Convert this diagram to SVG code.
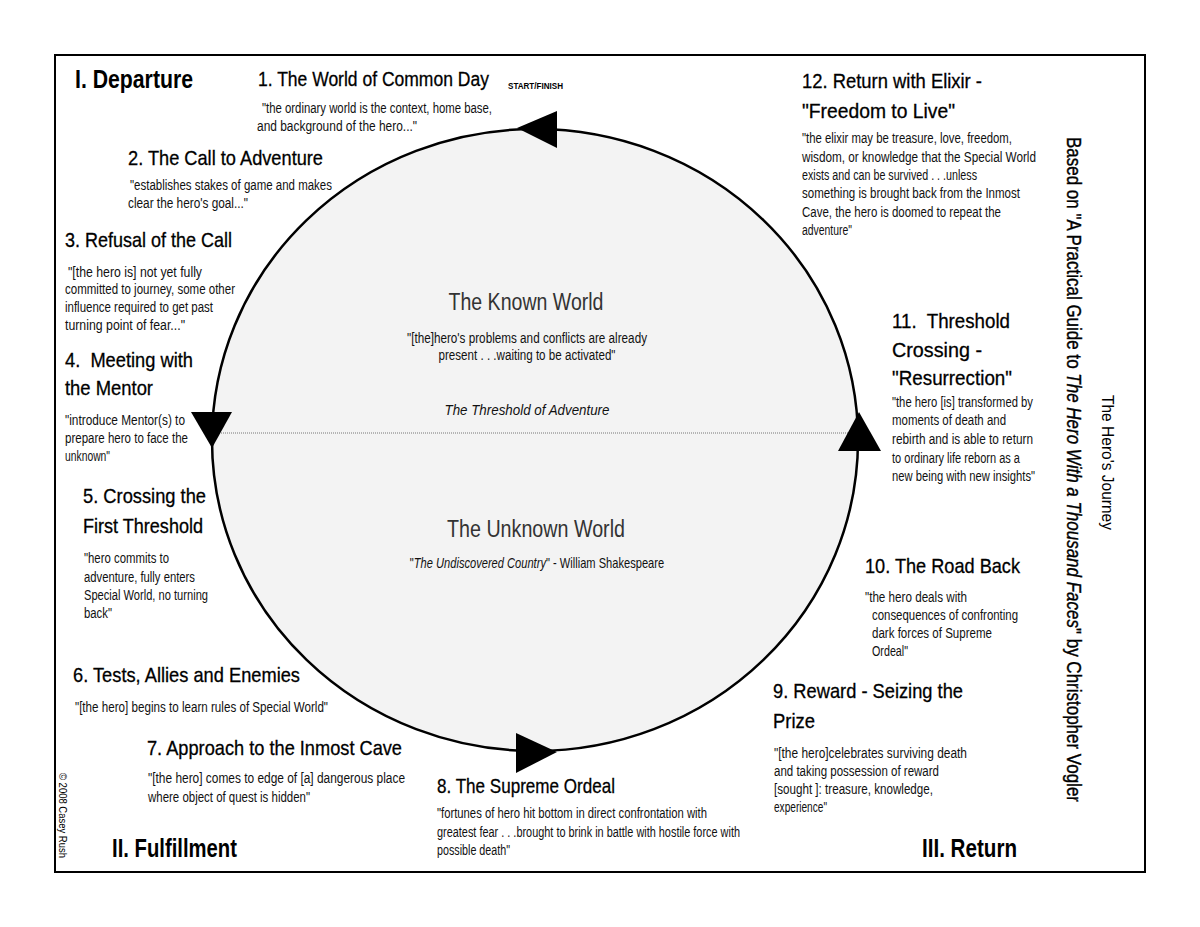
<svg xmlns="http://www.w3.org/2000/svg" width="1200" height="927" viewBox="0 0 1200 927">
<style>
text{font-family:"Liberation Sans",Arial,sans-serif;fill:#000}
.h{font-size:21px;stroke:#000;stroke-width:0.3}
.q{font-size:14px;fill:#111}
.sec{font-size:25px;font-weight:bold}
.w{font-size:23px;fill:#333}
.c{text-anchor:middle}
.it{font-style:italic}
.tiny{font-size:9px;font-weight:bold}
.pre{white-space:pre}
.arrow{fill:#000;stroke:none}
</style>
<rect x="0" y="0" width="1200" height="927" fill="#fff"/>
<rect x="55" y="55" width="1090" height="817" fill="none" stroke="#000" stroke-width="2"/>

<g id="cycle">
<ellipse cx="535" cy="440" rx="323" ry="311" fill="#f3f3f3" stroke="#000" stroke-width="2.5"/>
<line x1="213" y1="433" x2="857" y2="433" stroke="#777" stroke-width="1" stroke-dasharray="1,1"/>
</g>

<g id="connectors">
<polygon class="arrow" points="517,128 557,111 557,148"/>
<polygon class="arrow" points="191,412 232,412 212,448"/>
<polygon class="arrow" points="516,733 516,773 557,752"/>
<polygon class="arrow" points="838,451 881,451 859,412"/>
</g>

<g id="sections">
<text class="sec" x="75" y="88" textLength="118" lengthAdjust="spacingAndGlyphs">I. Departure</text>
<text class="sec" x="112" y="857" textLength="125" lengthAdjust="spacingAndGlyphs">II. Fulfillment</text>
<text class="sec" x="922" y="857" textLength="95" lengthAdjust="spacingAndGlyphs">III. Return</text>
</g>

<g id="step1">
<text class="h" transform="translate(258,86) scale(0.834,1)" x="0" y="0">1. The World of Common Day</text>
<text class="tiny" x="508" y="89" textLength="55" lengthAdjust="spacingAndGlyphs">START/FINISH</text>
<text class="q" x="262" y="113" textLength="230" lengthAdjust="spacingAndGlyphs">"the ordinary world is the context, home base,</text>
<text class="q" x="257" y="131" textLength="160" lengthAdjust="spacingAndGlyphs">and background of the hero..."</text>
</g>

<g id="step2">
<text class="h" x="128" y="165" textLength="195" lengthAdjust="spacingAndGlyphs">2. The Call to Adventure</text>
<text class="q" x="130" y="190" textLength="202" lengthAdjust="spacingAndGlyphs">"establishes stakes of game and makes</text>
<text class="q" x="128" y="208" textLength="120" lengthAdjust="spacingAndGlyphs">clear the hero's goal..."</text>
</g>

<g id="step3">
<text class="h" x="65" y="247" textLength="167" lengthAdjust="spacingAndGlyphs">3. Refusal of the Call</text>
<text class="q" x="68" y="277" textLength="134" lengthAdjust="spacingAndGlyphs">"[the hero is] not yet fully</text>
<text class="q" x="65" y="294" textLength="170" lengthAdjust="spacingAndGlyphs">committed to journey, some other</text>
<text class="q" x="65" y="312" textLength="148" lengthAdjust="spacingAndGlyphs">influence required to get past</text>
<text class="q" x="65" y="330" textLength="120" lengthAdjust="spacingAndGlyphs">turning point of fear..."</text>
</g>

<g id="step4">
<text class="h pre" x="65" y="367" textLength="128" lengthAdjust="spacingAndGlyphs">4.  Meeting with</text>
<text class="h" x="65" y="395" textLength="88" lengthAdjust="spacingAndGlyphs">the Mentor</text>
<text class="q" x="65" y="425" textLength="120" lengthAdjust="spacingAndGlyphs">"introduce Mentor(s) to</text>
<text class="q" x="65" y="443" textLength="123" lengthAdjust="spacingAndGlyphs">prepare hero to face the</text>
<text class="q" x="65" y="461" textLength="45" lengthAdjust="spacingAndGlyphs">unknown"</text>
</g>

<g id="step5">
<text class="h" x="83" y="503" textLength="123" lengthAdjust="spacingAndGlyphs">5. Crossing the</text>
<text class="h" x="83" y="533" textLength="120" lengthAdjust="spacingAndGlyphs">First Threshold</text>
<text class="q" x="84" y="563" textLength="85" lengthAdjust="spacingAndGlyphs">"hero commits to</text>
<text class="q" x="84" y="582" textLength="111" lengthAdjust="spacingAndGlyphs">adventure, fully enters</text>
<text class="q" x="84" y="600" textLength="124" lengthAdjust="spacingAndGlyphs">Special World, no turning</text>
<text class="q" x="84" y="618" textLength="28" lengthAdjust="spacingAndGlyphs">back"</text>
</g>

<g id="step6">
<text class="h" x="73" y="682" textLength="227" lengthAdjust="spacingAndGlyphs">6. Tests, Allies and Enemies</text>
<text class="q" x="75" y="712" textLength="253" lengthAdjust="spacingAndGlyphs">"[the hero] begins to learn rules of Special World"</text>
</g>

<g id="step7">
<text class="h" x="147" y="755" textLength="255" lengthAdjust="spacingAndGlyphs">7. Approach to the Inmost Cave</text>
<text class="q" x="148" y="783" textLength="257" lengthAdjust="spacingAndGlyphs">"[the hero] comes to edge of [a] dangerous place</text>
<text class="q" x="148" y="802" textLength="162" lengthAdjust="spacingAndGlyphs">where object of quest is hidden"</text>
</g>

<g id="step8">
<text class="h" x="437" y="793" textLength="178" lengthAdjust="spacingAndGlyphs">8. The Supreme Ordeal</text>
<text class="q" x="437" y="818" textLength="270" lengthAdjust="spacingAndGlyphs">"fortunes of hero hit bottom in direct confrontation with</text>
<text class="q" x="437" y="837" textLength="303" lengthAdjust="spacingAndGlyphs">greatest fear . . .brought to brink in battle with hostile force with</text>
<text class="q" x="437" y="855" textLength="73" lengthAdjust="spacingAndGlyphs">possible death"</text>
</g>

<g id="step9">
<text class="h" x="773" y="698" textLength="190" lengthAdjust="spacingAndGlyphs">9. Reward - Seizing the</text>
<text class="h" x="773" y="728" textLength="42" lengthAdjust="spacingAndGlyphs">Prize</text>
<text class="q" x="774" y="758" textLength="193" lengthAdjust="spacingAndGlyphs">"[the hero]celebrates surviving death</text>
<text class="q" x="774" y="776" textLength="165" lengthAdjust="spacingAndGlyphs">and taking possession of reward</text>
<text class="q" x="774" y="794" textLength="159" lengthAdjust="spacingAndGlyphs">[sought ]: treasure, knowledge,</text>
<text class="q" x="774" y="812" textLength="53" lengthAdjust="spacingAndGlyphs">experience"</text>
</g>

<g id="step10">
<text class="h" x="865" y="573" textLength="155" lengthAdjust="spacingAndGlyphs">10. The Road Back</text>
<text class="q" x="865" y="602" textLength="102" lengthAdjust="spacingAndGlyphs">"the hero deals with</text>
<text class="q" x="872" y="620" textLength="146" lengthAdjust="spacingAndGlyphs">consequences of confronting</text>
<text class="q" x="872" y="638" textLength="120" lengthAdjust="spacingAndGlyphs">dark forces of Supreme</text>
<text class="q" x="872" y="656" textLength="36" lengthAdjust="spacingAndGlyphs">Ordeal"</text>
</g>

<g id="step11">
<text class="h pre" x="892" y="328" textLength="118" lengthAdjust="spacingAndGlyphs">11.  Threshold</text>
<text class="h" x="892" y="357" textLength="90" lengthAdjust="spacingAndGlyphs">Crossing -</text>
<text class="h" x="892" y="385" textLength="120" lengthAdjust="spacingAndGlyphs">"Resurrection"</text>
<text class="q" x="892" y="407" textLength="141" lengthAdjust="spacingAndGlyphs">"the hero [is] transformed by</text>
<text class="q" x="892" y="425" textLength="114" lengthAdjust="spacingAndGlyphs">moments of death and</text>
<text class="q" x="892" y="444" textLength="141" lengthAdjust="spacingAndGlyphs">rebirth and is able to return</text>
<text class="q" x="892" y="463" textLength="128" lengthAdjust="spacingAndGlyphs">to ordinary life reborn as a</text>
<text class="q" x="892" y="481" textLength="143" lengthAdjust="spacingAndGlyphs">new being with new insights"</text>
</g>

<g id="step12">
<text class="h" x="802" y="88" textLength="180" lengthAdjust="spacingAndGlyphs">12. Return with Elixir -</text>
<text class="h" x="802" y="118" textLength="153" lengthAdjust="spacingAndGlyphs">"Freedom to Live"</text>
<text class="q" x="802" y="143" textLength="210" lengthAdjust="spacingAndGlyphs">"the elixir may be treasure, love, freedom,</text>
<text class="q" x="802" y="162" textLength="234" lengthAdjust="spacingAndGlyphs">wisdom, or knowledge that the Special World</text>
<text class="q" x="802" y="180" textLength="175" lengthAdjust="spacingAndGlyphs">exists and can be survived . . .unless</text>
<text class="q" x="802" y="198" textLength="218" lengthAdjust="spacingAndGlyphs">something is brought back from the Inmost</text>
<text class="q" x="802" y="217" textLength="199" lengthAdjust="spacingAndGlyphs">Cave, the hero is doomed to repeat the</text>
<text class="q" x="802" y="235" textLength="50" lengthAdjust="spacingAndGlyphs">adventure"</text>
</g>

<g id="known-world">
<text class="w c" x="526" y="310" textLength="155" lengthAdjust="spacingAndGlyphs">The Known World</text>
<text class="q c" x="527" y="343" textLength="240" lengthAdjust="spacingAndGlyphs">"[the]hero's problems and conflicts are already</text>
<text class="q c" x="527" y="360" textLength="177" lengthAdjust="spacingAndGlyphs">present . . .waiting to be activated"</text>
<text class="q c it" x="527" y="415" textLength="165" lengthAdjust="spacingAndGlyphs">The Threshold of Adventure</text>
</g>

<g id="unknown-world">
<text class="w c" x="536" y="537" textLength="178" lengthAdjust="spacingAndGlyphs">The Unknown World</text>
<text class="q c" transform="translate(537,568) scale(0.795,1)" x="0" y="0">"<tspan class="it">The Undiscovered Country</tspan>" - William Shakespeare</text>
</g>

<g id="title">
<text transform="translate(1102,395) rotate(90)" font-size="17" textLength="135" lengthAdjust="spacingAndGlyphs">The Hero's Journey</text>
<text transform="translate(1067,137) rotate(90)" font-size="21" stroke="#000" stroke-width="0.4" textLength="665" lengthAdjust="spacingAndGlyphs">Based on "A Practical Guide to <tspan class="it">The Hero With a Thousand Faces</tspan>" by Christopher Vogler</text>
</g>

<g id="copyright">
<text transform="translate(59,773) rotate(90)" font-size="10" textLength="85" lengthAdjust="spacingAndGlyphs">© 2008 Casey Rush</text>
</g>
</svg>
